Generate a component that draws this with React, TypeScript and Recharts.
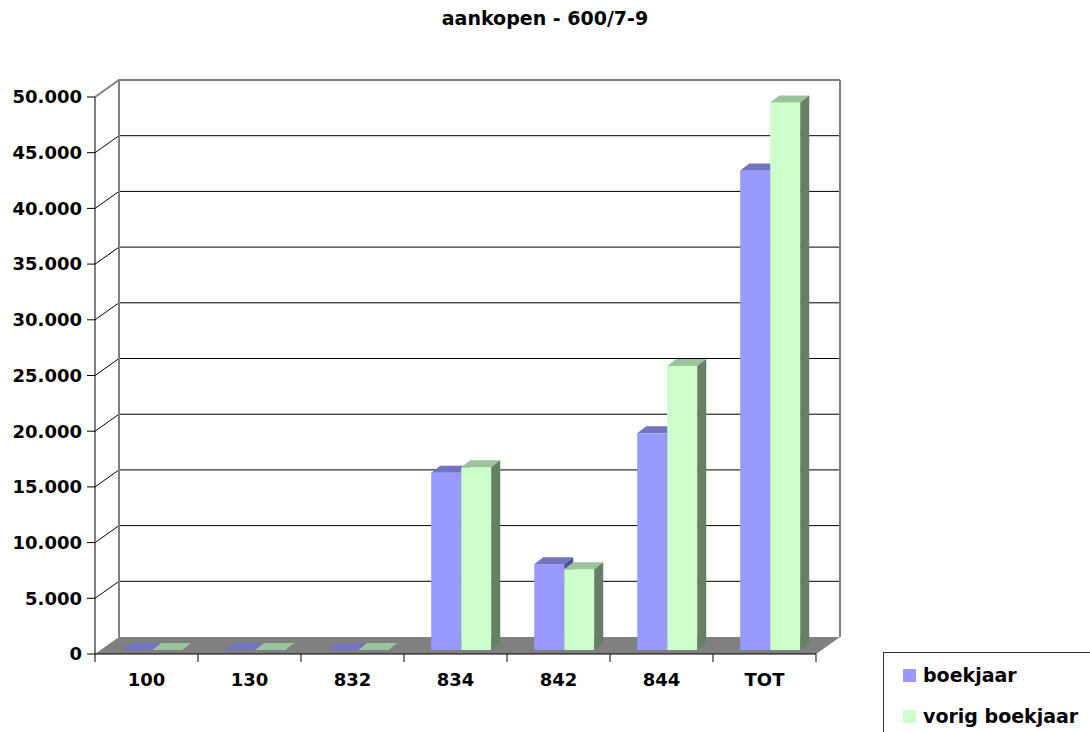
import { Bar, BarChart, CartesianGrid, XAxis, YAxis } from "recharts";

const categories = ["100", "130", "832", "834", "842", "844", "TOT"];
const boekjaar = [0, 0, 0, 15900, 7700, 19450, 43050];
const vorigBoekjaar = [0, 0, 0, 16400, 7250, 25500, 49150];
const yTicks = [0, 5000, 10000, 15000, 20000, 25000, 30000, 35000, 40000, 45000, 50000];

const data = categories.map((cat, i) => ({ cat, boekjaar: boekjaar[i], vorig: vorigBoekjaar[i] }));

const FONT = "'DejaVu Sans', Verdana, sans-serif";
const CHART_W = 1090;
const CHART_H = 732;
const MARGIN = { top: 97, right: 274, bottom: 48, left: 0 };
const Y_AXIS_W = 95;
const PLOT_W = CHART_W - MARGIN.right - MARGIN.left - Y_AXIS_W;
const X_TICK_MARGIN = 19;

// fake 3d: back wall offset, bar plane offset and bar depth
const WALL_DX = 24;
const WALL_DY = -17;
const BAR_DX = 5.6;
const BAR_DY = -4;
const DEPTH_DX = 9;
const DEPTH_DY = -7;

const BLUE = { front: "#9999ff", top: "#7373bf", side: "#4d4d99" };
const GREEN = { front: "#ccffcc", top: "#9cc49c", side: "#668066" };

const fmt = (v: number) => String(v).replace(/\B(?=(\d{3})+(?!\d))/g, ".");

function Bar3D(props: any) {
  const { x, y, width, height, colors } = props;
  if (x == null || y == null || !width) return null;
  const h = Math.max(0, height || 0);
  const fx = x + BAR_DX;
  const fy = y + BAR_DY;
  const topPts = `${fx},${fy} ${fx + DEPTH_DX},${fy + DEPTH_DY} ${fx + width + DEPTH_DX},${fy + DEPTH_DY} ${fx + width},${fy}`;
  const sidePts = `${fx + width},${fy} ${fx + width + DEPTH_DX},${fy + DEPTH_DY} ${fx + width + DEPTH_DX},${fy + h + DEPTH_DY} ${fx + width},${fy + h}`;
  return (
    <g>
      {h > 0 && <rect x={fx} y={fy} width={width} height={h} fill={colors.front} />}
      <polygon points={topPts} fill={colors.top} />
      {h > 0 && <polygon points={sidePts} fill={colors.side} />}
    </g>
  );
}

function GridLine3D(props: any) {
  const { x1, y1, x2, y, height } = props;
  const bottom = y + height;
  if (Math.abs(y1 - bottom) < 0.5) {
    const pts = `${x1},${y1} ${x2},${y1} ${x2 + WALL_DX},${y1 + WALL_DY} ${x1 + WALL_DX},${y1 + WALL_DY}`;
    return <polygon points={pts} fill="#808080" />;
  }
  const isTop = Math.abs(y1 - y) < 0.5;
  const d = `M${x1},${y1} L${x1 + WALL_DX},${y1 + WALL_DY} L${x2 + WALL_DX},${y1 + WALL_DY}`;
  if (!isTop) return <path d={d} stroke="#000" strokeWidth={1} fill="none" />;
  return (
    <g>
      <path d={d} stroke="#808080" strokeWidth={2} fill="none" />
      <line x1={x1 + WALL_DX} y1={y1 + WALL_DY} x2={x1 + WALL_DX} y2={bottom + WALL_DY} stroke="#808080" strokeWidth={2} />
      <line x1={x2 + WALL_DX} y1={y1 + WALL_DY} x2={x2 + WALL_DX} y2={bottom + WALL_DY} stroke="#808080" strokeWidth={2} />
    </g>
  );
}

function CatTick(props: any) {
  const { x, y, payload, index } = props;
  const band = PLOT_W / categories.length;
  const axisY = y - X_TICK_MARGIN;
  return (
    <g>
      <line x1={x - band / 2} y1={axisY} x2={x - band / 2} y2={axisY + 8} stroke="#000" />
      {index === categories.length - 1 && (
        <line x1={x + band / 2} y1={axisY} x2={x + band / 2} y2={axisY + 8} stroke="#000" />
      )}
      <text x={x} y={y} dy="0.71em" textAnchor="middle" fill="#000" fontSize={18} fontWeight={700} fontFamily={FONT}>
        {payload.value}
      </text>
    </g>
  );
}

const legendItems = [
  { label: "boekjaar", color: BLUE.front },
  { label: "vorig boekjaar", color: GREEN.front },
];

export default function App() {
  return (
    <div style={{ position: "absolute", left: 0, top: 0, width: CHART_W, height: CHART_H, background: "#fff", fontFamily: FONT }}>
      <div style={{ position: "absolute", top: 7, left: 0, width: CHART_W, textAlign: "center", fontSize: 19, fontWeight: 700, lineHeight: "22px" }}>
        aankopen - 600/7-9
      </div>
      <BarChart width={CHART_W} height={CHART_H} data={data} margin={MARGIN} barCategoryGap="21%" barGap={0}>
        <CartesianGrid vertical={false} horizontal={(p: any) => <GridLine3D {...p} />} />
        <XAxis
          dataKey="cat"
          height={30}
          axisLine={{ stroke: "#000" }}
          tickLine={false}
          tickSize={0}
          tickMargin={X_TICK_MARGIN}
          tick={<CatTick />}
        />
        <YAxis
          width={Y_AXIS_W}
          domain={[0, 50000]}
          ticks={yTicks}
          interval={0}
          tickFormatter={fmt}
          axisLine={{ stroke: "#000" }}
          tickLine={{ stroke: "#000" }}
          tickSize={8}
          tickMargin={5}
          tick={{ fill: "#000", fontSize: 18, fontWeight: 700, fontFamily: FONT }}
        />
        <Bar dataKey="boekjaar" isAnimationActive={false} shape={(p: any) => <Bar3D {...p} colors={BLUE} />} />
        <Bar dataKey="vorig" isAnimationActive={false} shape={(p: any) => <Bar3D {...p} colors={GREEN} />} />
      </BarChart>
      <div style={{ position: "absolute", left: 883, top: 652, width: 220, height: 90, border: "1px solid #333", boxSizing: "border-box" }}>
        {legendItems.map((it, i) => (
          <div key={it.label} style={{ position: "absolute", left: 19, top: 11 + i * 41, display: "flex", alignItems: "center", fontSize: 19, fontWeight: 700, lineHeight: "22px", whiteSpace: "nowrap" }}>
            <span style={{ display: "inline-block", width: 13, height: 13, background: it.color, marginRight: 7 }} />
            {it.label}
          </div>
        ))}
      </div>
    </div>
  );
}
